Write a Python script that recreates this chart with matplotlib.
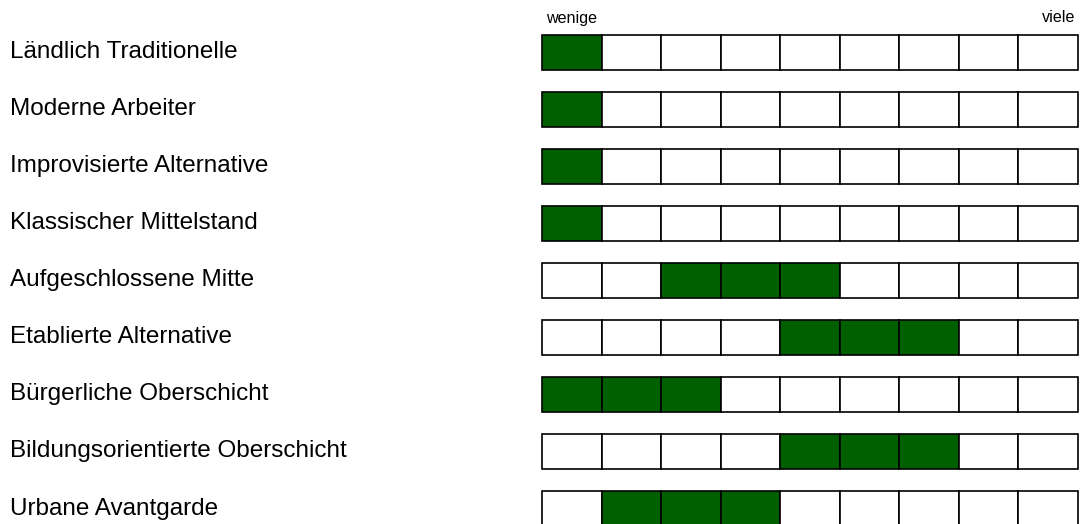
import matplotlib.pyplot as plt
from matplotlib.patches import Rectangle
from matplotlib.transforms import blended_transform_factory

plt.rcParams['font.family'] = ['Liberation Sans', 'DejaVu Sans']

groups = ['Ländlich Traditionelle', 'Moderne Arbeiter', 'Improvisierte Alternative',
          'Klassischer Mittelstand', 'Aufgeschlossene Mitte', 'Etablierte Alternative',
          'Bürgerliche Oberschicht', 'Bildungsorientierte Oberschicht', 'Urbane Avantgarde']
# erstes und letztes gefuelltes Kaestchen (0..8)
fill_start = [0, 0, 0, 0, 2, 4, 0, 4, 1]
fill_end = [0, 0, 0, 0, 4, 6, 2, 6, 3]
n_cells = 9
scale_low = 'wenige'
scale_high = 'viele'

W, H = 1081, 524
pitch = 57.0
box_h = 35.0 / pitch
top0 = 35.0

fig = plt.figure(figsize=(W / 100, H / 100), dpi=100)
ax = fig.add_axes([542 / W, 0, 535.5 / W, 1])
ax.set_xlim(0, n_cells)
ax.set_ylim((H - top0) / pitch, -top0 / pitch)
ax.axis('off')

green = '#006000'
for i, name in enumerate(groups):
    for c in range(n_cells):
        fc = green if fill_start[i] <= c <= fill_end[i] else 'white'
        ax.add_patch(Rectangle((c, i), 1, box_h, facecolor=fc, edgecolor='black',
                               linewidth=1.2, clip_on=False))
    tr = blended_transform_factory(fig.transFigure, ax.transData)
    ax.text(10 / W, i + box_h / 2, name, transform=tr, fontsize=17.5,
            ha='left', va='center')

ax.text(546 / W, 1 - 19 / H, scale_low, transform=fig.transFigure, fontsize=11.6,
        ha='left', va='center')
ax.text(1075 / W, 1 - 17 / H, scale_high, transform=fig.transFigure, fontsize=11.6,
        ha='right', va='center')

fig.savefig('out.png', dpi=100)
